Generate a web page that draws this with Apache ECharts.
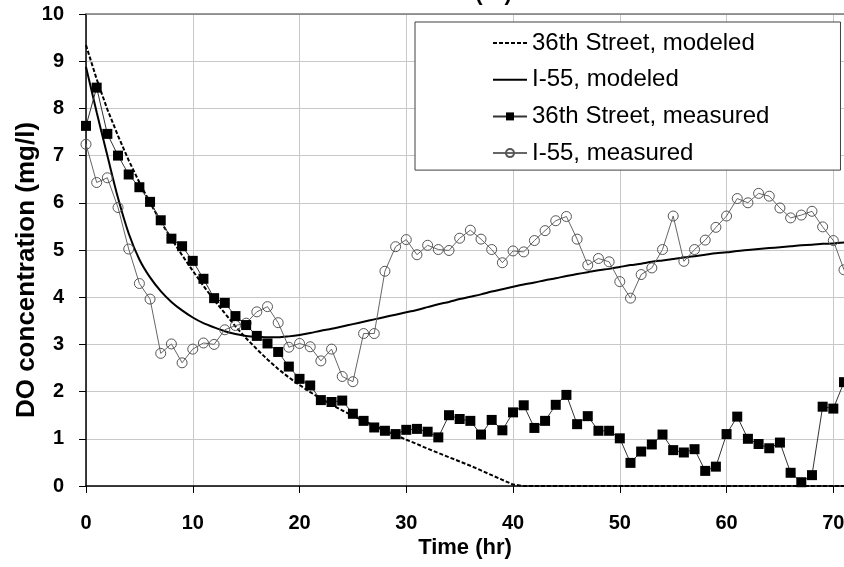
<!DOCTYPE html>
<html>
<head>
<meta charset="utf-8">
<script src="https://cdn.jsdelivr.net/npm/echarts@6/dist/echarts.min.js"></script>
<style>
html,body{margin:0;padding:0;background:#fff;}
#chart{width:844px;height:567px;}
</style>
</head>
<body>
<div id="chart"></div>
<script>
var hours = [0,1,2,3,4,5,6,7,8,9,10,11,12,13,14,15,16,17,18,19,20,21,22,23,24,25,26,27,28,29,30,31,32,33,34,35,36,37,38,39,40,41,42,43,44,45,46,47,48,49,50,51,52,53,54,55,56,57,58,59,60,61,62,63,64,65,66,67,68,69,70,71];

var street36Modeled = [9.34,8.62,7.98,7.42,6.90,6.43,6.00,5.60,5.24,4.89,4.56,4.24,3.94,3.66,3.38,3.13,2.90,2.68,2.48,2.30,2.14,1.99,1.85,1.72,1.60,1.49,1.38,1.28,1.18,1.08,0.98,0.89,0.79,0.70,0.61,0.52,0.43,0.33,0.23,0.13,0.03,0,0,0,0,0,0,0,0,0,0,0,0,0,0,0,0,0,0,0,0,0,0,0,0,0,0,0,0,0,0,0];

var i55Modeled = [8.88,7.92,7.00,6.10,5.35,4.80,4.42,4.13,3.90,3.72,3.57,3.45,3.36,3.28,3.22,3.18,3.16,3.15,3.15,3.17,3.20,3.24,3.29,3.33,3.38,3.43,3.48,3.53,3.58,3.63,3.68,3.73,3.79,3.85,3.90,3.96,4.01,4.06,4.12,4.17,4.22,4.27,4.31,4.36,4.40,4.45,4.49,4.53,4.57,4.60,4.64,4.68,4.71,4.75,4.78,4.81,4.84,4.87,4.90,4.93,4.95,4.98,5.00,5.02,5.04,5.06,5.08,5.10,5.11,5.13,5.14,5.16];

var street36Measured = [7.63,8.44,7.46,7.00,6.60,6.33,6.02,5.63,5.24,5.08,4.77,4.39,3.98,3.88,3.60,3.41,3.18,3.02,2.84,2.53,2.27,2.13,1.82,1.78,1.81,1.53,1.38,1.24,1.17,1.10,1.19,1.21,1.15,1.03,1.50,1.42,1.38,1.09,1.40,1.18,1.56,1.71,1.23,1.38,1.72,1.93,1.31,1.48,1.17,1.17,1.01,0.49,0.73,0.88,1.09,0.76,0.71,0.78,0.32,0.41,1.10,1.47,1.00,0.89,0.80,0.92,0.28,0.08,0.23,1.68,1.64,2.20];

var i55Measured = [7.24,6.43,6.53,5.90,5.02,4.29,3.96,2.81,3.01,2.61,2.90,3.03,3.00,3.31,3.40,3.45,3.69,3.80,3.46,2.94,3.02,2.95,2.65,2.90,2.32,2.21,3.23,3.23,4.55,5.07,5.22,4.90,5.10,5.01,4.99,5.25,5.42,5.23,5.01,4.73,4.98,4.96,5.20,5.41,5.62,5.71,5.23,4.68,4.82,4.75,4.33,3.98,4.48,4.62,5.01,5.72,4.76,5.01,5.21,5.48,5.72,6.09,6.00,6.20,6.14,5.89,5.68,5.74,5.82,5.49,5.20,4.58];

var seriesNames = ['36th Street, modeled','I-55, modeled','36th Street, measured','I-55, measured'];
var xTitle = 'Time (hr)';
var yTitle = 'DO concentration (mg/l)';

function pairs(xs, ys){ return xs.map(function(x,i){ return [x, ys[i]]; }); }

var chart = echarts.init(document.getElementById('chart'), null, {renderer:'canvas'});
var FONT = '"Liberation Sans", Arial, sans-serif';
chart.setOption({
  animation:false,
  backgroundColor:'#fff',
  grid:{left:86, top:14, right:0, bottom:81, containLabel:false, outerBoundsMode:'none'},
  legend:{
    orient:'vertical', left:415, top:22,
    padding:[9,71,5,77], itemGap:12.7, itemWidth:34, itemHeight:10,
    backgroundColor:'#fff', borderColor:'#404040', borderWidth:1,
    textStyle:{fontFamily:FONT, fontSize:24, color:'#000', lineHeight:24},
    data:seriesNames
  },
  xAxis:[{
    type:'value', min:0, max:71, interval:10, position:'bottom',
    name:xTitle, nameLocation:'middle', nameGap:51, nameMoveOverlap:false,
    nameTextStyle:{fontFamily:FONT, fontSize:22, fontWeight:'bold', color:'#000'},
    axisLine:{show:true, lineStyle:{color:'#000', width:1.5}},
    axisTick:{show:true, length:7, lineStyle:{color:'#000', width:1}},
    axisLabel:{margin:27, showMaxLabel:false, fontFamily:FONT, fontSize:20, fontWeight:'bold', color:'#000'},
    splitLine:{show:true, lineStyle:{color:'#c8c8c8', width:1}}
  },{
    type:'value', min:0, max:71, interval:10, position:'top',
    name:xTitle, nameLocation:'middle', nameGap:9, nameMoveOverlap:false,
    nameTextStyle:{fontFamily:FONT, fontSize:22, fontWeight:'bold', color:'#000'},
    axisLine:{show:true, lineStyle:{color:'#7a7a7a', width:1.5}},
    axisTick:{show:false}, axisLabel:{show:false}, splitLine:{show:false}
  }],
  yAxis:{
    type:'value', min:0, max:10, interval:1,
    name:yTitle, nameLocation:'middle', nameGap:46, nameMoveOverlap:false,
    nameTextStyle:{fontFamily:FONT, fontSize:26, fontWeight:'bold', color:'#000', padding:[0,40,0,0]},
    axisLine:{show:true, lineStyle:{color:'#000', width:1.5}},
    axisTick:{show:true, length:7, lineStyle:{color:'#000', width:1}},
    axisLabel:{margin:22, fontFamily:FONT, fontSize:20, fontWeight:'bold', color:'#000'},
    splitLine:{show:true, lineStyle:{color:'#c8c8c8', width:1}}
  },
  series:[
    {name:seriesNames[0], type:'line', data:pairs(hours, street36Modeled), showSymbol:false, symbol:'circle',
     lineStyle:{color:'#000', width:2, type:[4,2]}, itemStyle:{color:'rgba(0,0,0,0)', borderWidth:0}, z:2},
    {name:seriesNames[1], type:'line', data:pairs(hours, i55Modeled), showSymbol:false, symbol:'circle', smooth:0.3,
     lineStyle:{color:'#000', width:2}, itemStyle:{color:'rgba(0,0,0,0)', borderWidth:0}, z:2},
    {name:seriesNames[2], type:'line', data:pairs(hours, street36Measured), symbol:'rect', symbolSize:10,
     lineStyle:{color:'#333', width:1}, itemStyle:{color:'#000', borderColor:'#000', borderWidth:0}, z:4},
    {name:seriesNames[3], type:'line', data:pairs(hours, i55Measured), symbol:'circle', symbolSize:10,
     lineStyle:{color:'#666', width:1}, itemStyle:{color:'rgba(255,255,255,0)', borderColor:'#555', borderWidth:1}, z:3}
  ]
});
</script>
</body>
</html>
